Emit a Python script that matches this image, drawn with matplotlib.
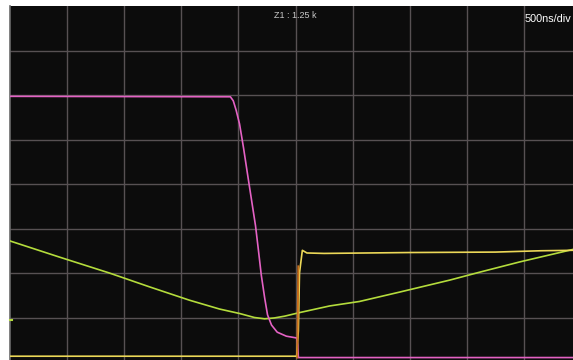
import matplotlib.pyplot as plt

# trace values in screen divisions (x: 0..10, y: -4..4)
ch_pink_x = [0.0, 3.86, 3.91, 3.96, 4.02, 4.09, 4.16, 4.23, 4.30, 4.35, 4.40, 4.46,
             4.51, 4.58, 4.68, 4.84, 5.02, 5.04, 5.05, 9.86]
ch_pink_y = [1.97, 1.96, 1.87, 1.66, 1.35, 0.81, 0.22, -0.36, -0.94, -1.48, -2.04, -2.56,
             -2.94, -3.17, -3.33, -3.42, -3.46, -3.62, -3.90, -3.90]

ch_yellow_x = [0.0, 5.02, 5.05, 5.07, 5.12, 5.20, 5.5, 7.0, 8.5, 9.3, 9.86]
ch_yellow_y = [-3.87, -3.87, -3.3, -2.0, -1.49, -1.55, -1.56, -1.54, -1.53, -1.50, -1.49]

ch_orange_x = [5.03, 5.05]
ch_orange_y = [-3.90, -1.85]

ch_green_x = [0.0, 0.86, 1.74, 2.44, 3.14, 3.67, 4.02, 4.28, 4.46, 4.63, 4.81, 5.07,
              5.60, 6.12, 6.82, 7.70, 8.23, 8.93, 9.86]
ch_green_y = [-1.28, -1.64, -2.0, -2.31, -2.61, -2.81, -2.91, -3.0, -3.03, -3.01, -2.97,
              -2.89, -2.74, -2.64, -2.43, -2.16, -1.98, -1.75, -1.47]

zoom_label = "Z1 : 1.25 k"
timebase = "500ns/div"

narrow = ['Liberation Sans', 'DejaVu Sans']

fig = plt.figure(figsize=(5.73, 3.6), dpi=100)
fig.patch.set_facecolor('white')
ax = fig.add_axes([10 / 573, -2 / 360, 571 / 573, 356 / 360])
ax.set_facecolor('#0c0c0c')
ax.set_xlim(0, 10)
ax.set_ylim(-4, 4)

grid_c = '#575153'
for gx in range(1, 10):
    ax.axvline(gx, color=grid_c, lw=1.0, zorder=1)
for gy in range(-3, 4):
    ax.axhline(gy, color=grid_c, lw=1.0, zorder=1)

ax.plot(ch_green_x, ch_green_y, color='#b4dc3c', lw=1.2, zorder=3)
ax.plot(ch_yellow_x, ch_yellow_y, color='#ecd858', lw=1.2, zorder=3)
ax.plot(ch_pink_x, ch_pink_y, color='#e462c4', lw=1.2, zorder=4)
ax.plot(ch_orange_x, ch_orange_y, color='#c8701c', lw=1.4, zorder=5)

# channel marker on the left edge
ax.plot([0, 0.03], [-3.06, -3.06], color='#b4dc3c', lw=1.5, zorder=6, clip_on=False)

ax.text(5.0, 3.78, zoom_label, color='#c8c8c8', fontsize=6.5, ha='center', va='center',
        family=narrow)
ax.text(9.01, 3.70, timebase, color='white', fontsize=7.8, ha='left', va='center',
        family=narrow)

ax.set_xticks([])
ax.set_yticks([])
for s in ['top', 'right', 'bottom']:
    ax.spines[s].set_visible(False)
ax.spines['left'].set_color('#6a6a6a')
ax.spines['left'].set_linewidth(1.2)

fig.savefig('out.png', dpi=100, facecolor='white')
